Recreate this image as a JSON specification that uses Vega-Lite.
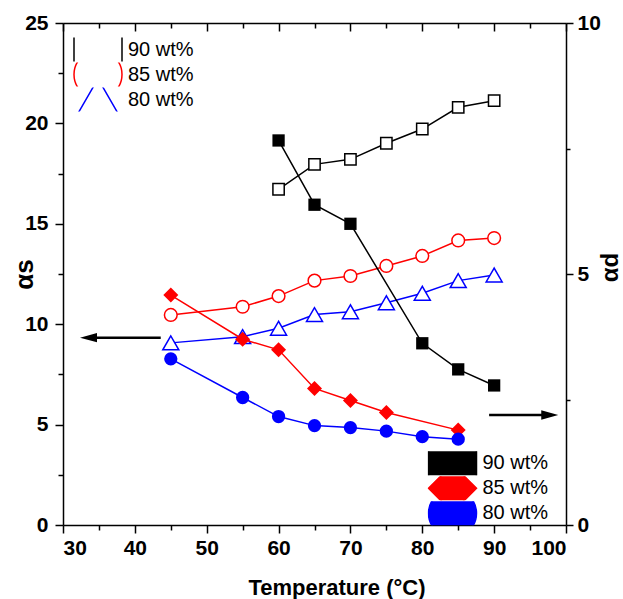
{
  "$schema": "https://vega.github.io/schema/vega-lite/v6.json",
  "width": 503,
  "height": 502,
  "autosize": {"type": "none"},
  "padding": {"left": 63, "top": 23, "right": 57, "bottom": 74},
  "background": "white",
  "config": {
    "view": {"stroke": null},
    "axis": {
      "domainColor": "black", "domainWidth": 1.5, "tickColor": "black", "tickWidth": 1.5,
      "labelFont": "Liberation Sans", "labelFontSize": 21, "labelFontWeight": "bold", "labelColor": "black",
      "titleFont": "Liberation Sans", "titleFontWeight": "bold", "titleColor": "black",
      "grid": false
    },
    "legend": {
      "direction": "vertical", "columns": 1, "padding": 0, "rowPadding": 1,
      "clipHeight": 24, "symbolSize": 2304, "symbolStrokeWidth": 1.5,
      "labelFont": "Liberation Sans", "labelFontSize": 20, "labelFontWeight": "normal",
      "labelColor": "black", "labelOffset": 5
    }
  },
  "datasets": {
    "open": [
      {"T": 60, "v": 16.72, "s": "90 wt%"}, {"T": 65, "v": 17.96, "s": "90 wt%"}, {"T": 70, "v": 18.21, "s": "90 wt%"},
      {"T": 75, "v": 19.01, "s": "90 wt%"}, {"T": 80, "v": 19.72, "s": "90 wt%"}, {"T": 85, "v": 20.8, "s": "90 wt%"},
      {"T": 90, "v": 21.13, "s": "90 wt%"},
      {"T": 45, "v": 10.46, "s": "85 wt%"}, {"T": 55, "v": 10.87, "s": "85 wt%"}, {"T": 60, "v": 11.4, "s": "85 wt%"},
      {"T": 65, "v": 12.17, "s": "85 wt%"}, {"T": 70, "v": 12.4, "s": "85 wt%"}, {"T": 75, "v": 12.9, "s": "85 wt%"},
      {"T": 80, "v": 13.4, "s": "85 wt%"}, {"T": 85, "v": 14.17, "s": "85 wt%"}, {"T": 90, "v": 14.29, "s": "85 wt%"},
      {"T": 45, "v": 9.07, "s": "80 wt%"}, {"T": 55, "v": 9.38, "s": "80 wt%"}, {"T": 60, "v": 9.8, "s": "80 wt%"},
      {"T": 65, "v": 10.48, "s": "80 wt%"}, {"T": 70, "v": 10.62, "s": "80 wt%"}, {"T": 75, "v": 11.07, "s": "80 wt%"},
      {"T": 80, "v": 11.54, "s": "80 wt%"}, {"T": 85, "v": 12.17, "s": "80 wt%"}, {"T": 90, "v": 12.45, "s": "80 wt%"}
    ],
    "filled": [
      {"T": 60, "v": 7.66, "s": "90 wt%"}, {"T": 65, "v": 6.38, "s": "90 wt%"}, {"T": 70, "v": 6.0, "s": "90 wt%"},
      {"T": 80, "v": 3.62, "s": "90 wt%"}, {"T": 85, "v": 3.1, "s": "90 wt%"}, {"T": 90, "v": 2.78, "s": "90 wt%"},
      {"T": 45, "v": 4.58, "s": "85 wt%"}, {"T": 55, "v": 3.7, "s": "85 wt%"}, {"T": 60, "v": 3.49, "s": "85 wt%"},
      {"T": 65, "v": 2.72, "s": "85 wt%"}, {"T": 70, "v": 2.48, "s": "85 wt%"}, {"T": 75, "v": 2.24, "s": "85 wt%"},
      {"T": 85, "v": 1.89, "s": "85 wt%"},
      {"T": 45, "v": 3.31, "s": "80 wt%"}, {"T": 55, "v": 2.54, "s": "80 wt%"}, {"T": 60, "v": 2.16, "s": "80 wt%"},
      {"T": 65, "v": 1.98, "s": "80 wt%"}, {"T": 70, "v": 1.94, "s": "80 wt%"}, {"T": 75, "v": 1.87, "s": "80 wt%"},
      {"T": 80, "v": 1.76, "s": "80 wt%"}, {"T": 85, "v": 1.71, "s": "80 wt%"}
    ],
    "arrows": [
      {"x1": 43.6, "x2": 33.55, "y": 9.33, "angle": 180},
      {"x1": 89.3, "x2": 97.74, "y": 5.48, "angle": 0}
    ]
  },
  "layer": [
    {
      "layer": [
        {
          "data": {"name": "open"},
          "mark": {"type": "line", "strokeWidth": 1.5},
          "encoding": {
            "x": {
              "field": "T", "type": "quantitative",
              "scale": {"domain": [30, 100], "nice": false, "zero": false},
              "axis": {
                "orient": "bottom", "values": [30, 35, 40, 45, 50, 55, 60, 65, 70, 75, 80, 85, 90, 95, 100],
                "labelExpr": "datum.value % 10 === 0 ? datum.label : ''", "tickSize": 8, "labelPadding": 4,
                "title": "Temperature (°C)", "titleFontSize": 22, "titleX": 273.5, "titleY": 62, "titleAlign": "center", "titleBaseline": "middle",
                "encoding": {"ticks": {"y2": {"value": {"expr": "datum.value % 10 === 0 ? 8 : 5"}}}}
              }
            },
            "y": {
              "field": "v", "type": "quantitative",
              "scale": {"domain": [0, 25], "nice": false, "zero": false},
              "axis": {
                "orient": "left", "values": [0, 2.5, 5, 7.5, 10, 12.5, 15, 17.5, 20, 22.5, 25],
                "labelExpr": "datum.value % 5 === 0 ? datum.label : ''", "tickSize": 8, "labelPadding": 7,
                "title": "αs", "titleFontSize": 26, "titleAngle": 270, "titleX": -39, "titleY": 251, "titleAlign": "center", "titleBaseline": "middle",
                "encoding": {"ticks": {"x2": {"value": {"expr": "datum.value % 5 === 0 ? -8 : -5"}}}}
              }
            },
            "stroke": {
              "field": "s", "type": "nominal",
              "scale": {"domain": ["90 wt%", "85 wt%", "80 wt%"], "range": ["#000000", "#ff0000", "#0000ff"]},
              "legend": {
                "orient": "none", "legendX": 10, "legendY": 14.5, "title": null,
                "encoding": {
                  "symbols": {
                    "shape": {"value": {"expr": "datum.value === '90 wt%' ? 'M-0.25,0L-0.059,0M0.059,0L0.25,0M-0.059,-0.059L0.059,-0.059L0.059,0.059L-0.059,0.059Z' : datum.value === '85 wt%' ? 'M-0.25,0L-0.066,0M0.066,0L0.25,0M0.066,0L0.061,0.0253L0.0467,0.0467L0.0253,0.061L0,0.066L-0.0253,0.061L-0.0467,0.0467L-0.061,0.0253L-0.066,0L-0.061,-0.0253L-0.0467,-0.0467L-0.0253,-0.061L0,-0.066L0.0253,-0.061L0.0467,-0.0467L0.061,-0.0253Z' : 'M-0.25,0L-0.042,0M0.042,0L0.25,0M0,-0.073L0.083,0.073L-0.083,0.073Z'"}},
                    "size": {"value": 2304},
                    "fill": {"value": "white"},
                    "strokeWidth": {"value": 1.5},
                    "opacity": {"value": 1}
                  }
                }
              }
            }
          }
        },
        {
          "data": {"name": "open"},
          "mark": {"type": "point", "filled": false, "fill": "white", "strokeWidth": 1.5, "opacity": 1},
          "encoding": {
            "x": {
              "field": "T", "type": "quantitative",
              "scale": {"domain": [30, 100], "nice": false, "zero": false},
              "axis": {
                "orient": "bottom", "values": [30, 35, 40, 45, 50, 55, 60, 65, 70, 75, 80, 85, 90, 95, 100],
                "labelExpr": "datum.value % 10 === 0 ? datum.label : ''", "tickSize": 8, "labelPadding": 4,
                "title": "Temperature (°C)", "titleFontSize": 22, "titleX": 273.5, "titleY": 62, "titleAlign": "center", "titleBaseline": "middle",
                "encoding": {"ticks": {"y2": {"value": {"expr": "datum.value % 10 === 0 ? 8 : 5"}}}}
              }
            },
            "y": {
              "field": "v", "type": "quantitative",
              "scale": {"domain": [0, 25], "nice": false, "zero": false},
              "axis": {
                "orient": "left", "values": [0, 2.5, 5, 7.5, 10, 12.5, 15, 17.5, 20, 22.5, 25],
                "labelExpr": "datum.value % 5 === 0 ? datum.label : ''", "tickSize": 8, "labelPadding": 7,
                "title": "αs", "titleFontSize": 26, "titleAngle": 270, "titleX": -39, "titleY": 251, "titleAlign": "center", "titleBaseline": "middle",
                "encoding": {"ticks": {"x2": {"value": {"expr": "datum.value % 5 === 0 ? -8 : -5"}}}}
              }
            },
            "stroke": {
              "field": "s", "type": "nominal",
              "scale": {"domain": ["90 wt%", "85 wt%", "80 wt%"], "range": ["#000000", "#ff0000", "#0000ff"]},
              "legend": {
                "orient": "none", "legendX": 10, "legendY": 14.5, "title": null,
                "encoding": {
                  "symbols": {
                    "shape": {"value": {"expr": "datum.value === '90 wt%' ? 'M-0.25,0L-0.059,0M0.059,0L0.25,0M-0.059,-0.059L0.059,-0.059L0.059,0.059L-0.059,0.059Z' : datum.value === '85 wt%' ? 'M-0.25,0L-0.066,0M0.066,0L0.25,0M0.066,0L0.061,0.0253L0.0467,0.0467L0.0253,0.061L0,0.066L-0.0253,0.061L-0.0467,0.0467L-0.061,0.0253L-0.066,0L-0.061,-0.0253L-0.0467,-0.0467L-0.0253,-0.061L0,-0.066L0.0253,-0.061L0.0467,-0.0467L0.061,-0.0253Z' : 'M-0.25,0L-0.042,0M0.042,0L0.25,0M0,-0.073L0.083,0.073L-0.083,0.073Z'"}},
                    "size": {"value": 2304},
                    "fill": {"value": "white"},
                    "strokeWidth": {"value": 1.5},
                    "opacity": {"value": 1}
                  }
                }
              }
            },
            "shape": {
              "field": "s", "type": "nominal",
              "scale": {"domain": ["90 wt%", "85 wt%", "80 wt%"], "range": ["square", "circle", "triangle-up"]},
              "legend": null
            },
            "size": {"condition": [{"test": "datum.s === '90 wt%'", "value": 128}, {"test": "datum.s === '85 wt%'", "value": 161}], "value": 256}
          }
        },
        {
          "data": {"name": "arrows"},
          "mark": {"type": "rule", "strokeWidth": 2.5, "color": "black"},
          "encoding": {
            "x": {
              "field": "x1", "type": "quantitative",
              "scale": {"domain": [30, 100], "nice": false, "zero": false},
              "axis": {
                "orient": "bottom", "values": [30, 35, 40, 45, 50, 55, 60, 65, 70, 75, 80, 85, 90, 95, 100],
                "labelExpr": "datum.value % 10 === 0 ? datum.label : ''", "tickSize": 8, "labelPadding": 4,
                "title": "Temperature (°C)", "titleFontSize": 22, "titleX": 273.5, "titleY": 62, "titleAlign": "center", "titleBaseline": "middle",
                "encoding": {"ticks": {"y2": {"value": {"expr": "datum.value % 10 === 0 ? 8 : 5"}}}}
              }
            },
            "x2": {"field": "x2"},
            "y": {
              "field": "y", "type": "quantitative",
              "scale": {"domain": [0, 25], "nice": false, "zero": false},
              "axis": {
                "orient": "left", "values": [0, 2.5, 5, 7.5, 10, 12.5, 15, 17.5, 20, 22.5, 25],
                "labelExpr": "datum.value % 5 === 0 ? datum.label : ''", "tickSize": 8, "labelPadding": 7,
                "title": "αs", "titleFontSize": 26, "titleAngle": 270, "titleX": -39, "titleY": 251, "titleAlign": "center", "titleBaseline": "middle",
                "encoding": {"ticks": {"x2": {"value": {"expr": "datum.value % 5 === 0 ? -8 : -5"}}}}
              }
            }
          }
        },
        {
          "data": {"name": "arrows"},
          "mark": {"type": "point", "shape": "M1,0L-1,-0.55L-1,0.55Z", "filled": true, "color": "black", "size": 289, "opacity": 1},
          "encoding": {
            "x": {
              "field": "x2", "type": "quantitative",
              "scale": {"domain": [30, 100], "nice": false, "zero": false},
              "axis": {
                "orient": "bottom", "values": [30, 35, 40, 45, 50, 55, 60, 65, 70, 75, 80, 85, 90, 95, 100],
                "labelExpr": "datum.value % 10 === 0 ? datum.label : ''", "tickSize": 8, "labelPadding": 4,
                "title": "Temperature (°C)", "titleFontSize": 22, "titleX": 273.5, "titleY": 62, "titleAlign": "center", "titleBaseline": "middle",
                "encoding": {"ticks": {"y2": {"value": {"expr": "datum.value % 10 === 0 ? 8 : 5"}}}}
              }
            },
            "y": {
              "field": "y", "type": "quantitative",
              "scale": {"domain": [0, 25], "nice": false, "zero": false},
              "axis": {
                "orient": "left", "values": [0, 2.5, 5, 7.5, 10, 12.5, 15, 17.5, 20, 22.5, 25],
                "labelExpr": "datum.value % 5 === 0 ? datum.label : ''", "tickSize": 8, "labelPadding": 7,
                "title": "αs", "titleFontSize": 26, "titleAngle": 270, "titleX": -39, "titleY": 251, "titleAlign": "center", "titleBaseline": "middle",
                "encoding": {"ticks": {"x2": {"value": {"expr": "datum.value % 5 === 0 ? -8 : -5"}}}}
              }
            },
            "angle": {"field": "angle", "type": "quantitative", "scale": null}
          }
        }
      ]
    },
    {
      "layer": [
        {
          "data": {"name": "filled"},
          "mark": {"type": "line", "strokeWidth": 1.5},
          "encoding": {
            "x": {
              "field": "T", "type": "quantitative",
              "scale": {"domain": [30, 100], "nice": false, "zero": false},
              "axis": {
                "orient": "top", "values": [30, 35, 40, 45, 50, 55, 60, 65, 70, 75, 80, 85, 90, 95, 100],
                "labels": false, "tickSize": 8, "title": null,
                "encoding": {"ticks": {"y2": {"value": {"expr": "datum.value % 10 === 0 ? 8 : 5"}}}}
              }
            },
            "y": {
              "field": "v", "type": "quantitative",
              "scale": {"domain": [0, 10], "nice": false, "zero": false},
              "axis": {
                "orient": "right", "values": [0, 2.5, 5, 7.5, 10],
                "labelExpr": "datum.value % 5 === 0 ? datum.label : ''", "tickSize": 7, "labelPadding": 4,
                "title": "αd", "titleFontSize": 24, "titleAngle": 270, "titleX": 44, "titleY": 244, "titleAlign": "center", "titleBaseline": "middle",
                "encoding": {"ticks": {"x2": {"value": {"expr": "datum.value % 5 === 0 ? 7 : 4"}}}}
              }
            },
            "color": {
              "field": "s", "type": "nominal",
              "scale": {"domain": ["90 wt%", "85 wt%", "80 wt%"], "range": ["#000000", "#ff0000", "#0000ff"]},
              "legend": {
                "orient": "none", "legendX": 364.5, "legendY": 428.3, "title": null,
                "encoding": {
                  "symbols": {
                    "shape": {"value": {"expr": "datum.value === '90 wt%' ? 'M-0.25,0L0.25,0M-0.064,-0.064L0.064,-0.064L0.064,0.064L-0.064,0.064Z' : datum.value === '85 wt%' ? 'M-0.25,0L0.25,0M0,-0.078L0.078,0L0,0.078L-0.078,0Z' : 'M-0.25,0L0.25,0M0.069,0L0.0637,0.0264L0.0488,0.0488L0.0264,0.0637L0,0.069L-0.0264,0.0637L-0.0488,0.0488L-0.0637,0.0264L-0.069,0L-0.0637,-0.0264L-0.0488,-0.0488L-0.0264,-0.0637L0,-0.069L0.0264,-0.0637L0.0488,-0.0488L0.0637,-0.0264Z'"}},
                    "size": {"value": 2304},
                    "stroke": {"value": {"expr": "datum.value === '90 wt%' ? '#000000' : datum.value === '85 wt%' ? '#ff0000' : '#0000ff'"}},
                    "fill": {"value": {"expr": "datum.value === '90 wt%' ? '#000000' : datum.value === '85 wt%' ? '#ff0000' : '#0000ff'"}},
                    "strokeWidth": {"value": 1.5},
                    "opacity": {"value": 1}
                  }
                }
              }
            }
          }
        },
        {
          "data": {"name": "filled"},
          "mark": {"type": "point", "filled": true, "opacity": 1},
          "encoding": {
            "x": {
              "field": "T", "type": "quantitative",
              "scale": {"domain": [30, 100], "nice": false, "zero": false},
              "axis": {
                "orient": "top", "values": [30, 35, 40, 45, 50, 55, 60, 65, 70, 75, 80, 85, 90, 95, 100],
                "labels": false, "tickSize": 8, "title": null,
                "encoding": {"ticks": {"y2": {"value": {"expr": "datum.value % 10 === 0 ? 8 : 5"}}}}
              }
            },
            "y": {
              "field": "v", "type": "quantitative",
              "scale": {"domain": [0, 10], "nice": false, "zero": false},
              "axis": {
                "orient": "right", "values": [0, 2.5, 5, 7.5, 10],
                "labelExpr": "datum.value % 5 === 0 ? datum.label : ''", "tickSize": 7, "labelPadding": 4,
                "title": "αd", "titleFontSize": 24, "titleAngle": 270, "titleX": 44, "titleY": 244, "titleAlign": "center", "titleBaseline": "middle",
                "encoding": {"ticks": {"x2": {"value": {"expr": "datum.value % 5 === 0 ? 7 : 4"}}}}
              }
            },
            "color": {
              "field": "s", "type": "nominal",
              "scale": {"domain": ["90 wt%", "85 wt%", "80 wt%"], "range": ["#000000", "#ff0000", "#0000ff"]},
              "legend": {
                "orient": "none", "legendX": 364.5, "legendY": 428.3, "title": null,
                "encoding": {
                  "symbols": {
                    "shape": {"value": {"expr": "datum.value === '90 wt%' ? 'M-0.25,0L0.25,0M-0.064,-0.064L0.064,-0.064L0.064,0.064L-0.064,0.064Z' : datum.value === '85 wt%' ? 'M-0.25,0L0.25,0M0,-0.078L0.078,0L0,0.078L-0.078,0Z' : 'M-0.25,0L0.25,0M0.069,0L0.0637,0.0264L0.0488,0.0488L0.0264,0.0637L0,0.069L-0.0264,0.0637L-0.0488,0.0488L-0.0637,0.0264L-0.069,0L-0.0637,-0.0264L-0.0488,-0.0488L-0.0264,-0.0637L0,-0.069L0.0264,-0.0637L0.0488,-0.0488L0.0637,-0.0264Z'"}},
                    "size": {"value": 2304},
                    "stroke": {"value": {"expr": "datum.value === '90 wt%' ? '#000000' : datum.value === '85 wt%' ? '#ff0000' : '#0000ff'"}},
                    "fill": {"value": {"expr": "datum.value === '90 wt%' ? '#000000' : datum.value === '85 wt%' ? '#ff0000' : '#0000ff'"}},
                    "strokeWidth": {"value": 1.5},
                    "opacity": {"value": 1}
                  }
                }
              }
            },
            "shape": {
              "field": "s", "type": "nominal",
              "scale": {"domain": ["90 wt%", "85 wt%", "80 wt%"], "range": ["square", "diamond", "circle"]},
              "legend": null
            },
            "size": {"condition": [{"test": "datum.s === '90 wt%'", "value": 151}, {"test": "datum.s === '85 wt%'", "value": 225}], "value": 177}
          }
        }
      ]
    }
  ],
  "resolve": {
    "scale": {"y": "independent", "shape": "independent", "color": "independent", "stroke": "independent"}
  }
}
